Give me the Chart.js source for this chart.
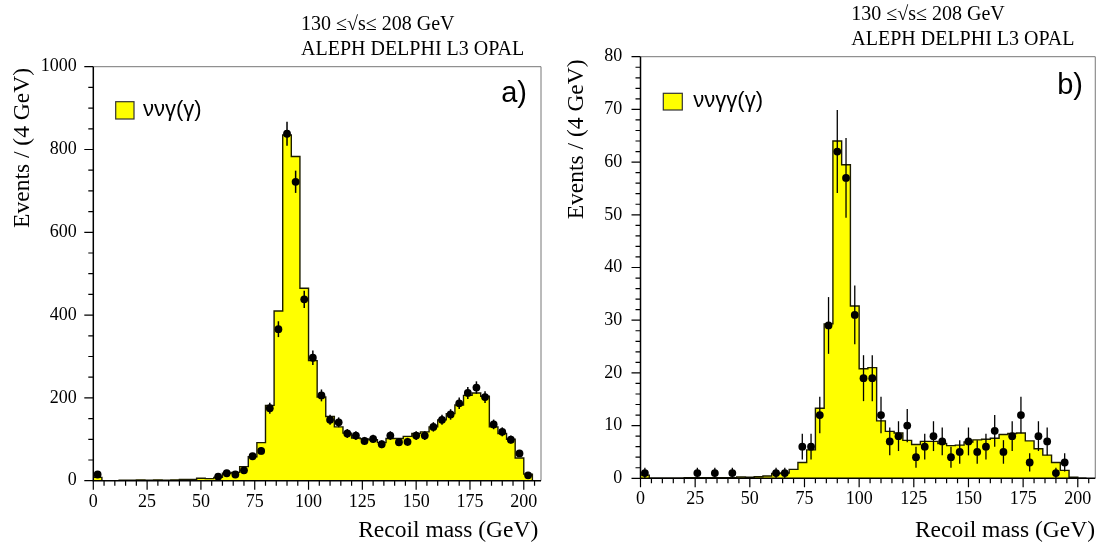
<!DOCTYPE html>
<html>
<head>
<meta charset="utf-8">
<script src="https://cdn.jsdelivr.net/npm/chart.js@4.4.0/dist/chart.umd.min.js"></script>
<style>
  html, body { margin: 0; padding: 0; background: #fff; }
  #wrap { position: relative; width: 1102px; height: 546px; overflow: hidden; }
  canvas { position: absolute; top: 0; }
  #panelA { left: 0; }
  #panelB { left: 560px; }
</style>
</head>
<body>
<div id="wrap">
  <canvas id="panelA" width="560" height="546"></canvas>
  <canvas id="panelB" width="542" height="546"></canvas>
</div>
<script>
// recoil mass histograms, 4 GeV bins starting at 0 GeV
const binWidth = 4;

const xTicks = [0, 25, 50, 75, 100, 125, 150, 175, 200];
const yTicksA = [0, 200, 400, 600, 800, 1000];
const yTicksB = [0, 10, 20, 30, 40, 50, 60, 70, 80];

// nu nu gamma (gamma): expectation (yellow) and observed events per bin
const mcA = [8, 0, 0, 1, 1, 2, 1, 2, 1, 2,
             3, 3, 6, 5, 8, 18, 20, 34, 58, 92,
             182, 410, 835, 783, 465, 290, 202, 155, 130, 115,
             103, 101, 99, 92, 102, 102, 107, 114, 118, 130,
             147, 162, 183, 206, 212, 204, 130, 114, 100, 55, 16];
const obsA = [15, 0, 0, 0, 0, 0, 0, 0, 0, 0,
              0, 0, 0, 0, 10, 18, 15, 25, 59, 72,
              175, 366, 838, 722, 438, 297, 206, 147, 141, 114,
              109, 96, 101, 88, 109, 93, 94, 109, 109, 130,
              147, 160, 187, 212, 225, 202, 136, 118, 99, 66, 13];

// nu nu gamma gamma (gamma)
const mcB = [0.6, 0, 0, 0, 0, 0.1, 0.1, 0.1, 0.1, 0.1,
             0.1, 0.25, 0.2, 0.3, 0.45, 0.9, 1.0, 1.7, 3.0, 5.4,
             13.3, 29.3, 64, 59.5, 32.7, 20.8, 21.0, 10.9, 8.9, 8.6,
             7.2, 6.4, 7.0, 7.0, 6.6, 6.2, 6.3, 6.9, 7.3, 7.4,
             7.6, 8.3, 8.5, 8.6, 7.1, 5.6, 4.4, 3.0, 1.5, 0.2, 0];
const obsB = [1, 0, 0, 0, 0, 0, 1, 0, 1, 0,
              1, 0, 0, 0, 0, 1, 1, 0, 6, 6,
              12, 29, 62, 57, 31, 19, 19, 12, 7, 8,
              10, 4, 6, 8, 7, 4, 5, 7, 5, 6,
              9, 5, 8, 12, 3, 8, 7, 1, 3, 0, 0];

// step outline: one point per lower bin edge, closed at the last upper edge
function histPoints(counts) {
  const pts = counts.map((c, i) => ({ x: i * binWidth, y: c }));
  pts.push({ x: counts.length * binWidth, y: 0 });
  return pts;
}

// observed counts at bin centres, empty bins not drawn
function dataPoints(counts) {
  return counts
    .map((c, i) => ({ x: i * binWidth + binWidth / 2, y: c }))
    .filter(p => p.y > 0);
}

// axis frame, minor/major ticks and Poisson error bars
const framePlugin = {
  id: 'frame',
  afterDatasetsDraw(chart, args, o) {
    const { ctx, chartArea: a } = chart;
    const x = chart.scales.x, y = chart.scales.y;
    ctx.save();

    const ds = chart.data.datasets[1].data;
    const meta = chart.getDatasetMeta(1);
    ctx.strokeStyle = '#000';
    ctx.lineWidth = o.errWidth;
    meta.data.forEach((pt, i) => {
      const v = ds[i].y, e = Math.sqrt(v);
      ctx.beginPath();
      ctx.moveTo(pt.x, y.getPixelForValue(v - e));
      ctx.lineTo(pt.x, y.getPixelForValue(v + e));
      ctx.stroke();
    });

    // top and right edges
    ctx.strokeStyle = '#777';
    ctx.lineWidth = 1;
    ctx.beginPath();
    ctx.moveTo(a.left, a.top);
    ctx.lineTo(a.right, a.top);
    ctx.lineTo(a.right, a.bottom);
    ctx.stroke();

    ctx.strokeStyle = '#000';
    ctx.lineWidth = 1.5;
    ctx.beginPath();
    ctx.moveTo(a.left, a.top);
    ctx.lineTo(a.left, a.bottom);
    ctx.lineTo(a.right, a.bottom);
    ctx.stroke();

    ctx.lineWidth = 1.2;
    ctx.beginPath();
    for (let v = 0; v <= x.max + 1e-9; v += o.xMinor) {
      const px = x.getPixelForValue(v);
      const len = (v % o.xMajor === 0) ? 9 : 5;
      ctx.moveTo(px, a.bottom);
      ctx.lineTo(px, a.bottom + len);
    }
    for (let v = 0; v <= y.max + 1e-9; v += o.yMinor) {
      const py = y.getPixelForValue(v);
      const len = (Math.abs(v % o.yMajor) < 1e-9) ? 9 : 5;
      ctx.moveTo(a.left, py);
      ctx.lineTo(a.left - len, py);
    }
    ctx.stroke();
    ctx.restore();
  }
};

// header, axis titles, panel tag and legend
const textPlugin = {
  id: 'texts',
  afterDraw(chart, args, o) {
    const ctx = chart.ctx;
    ctx.save();
    ctx.fillStyle = '#000';
    ctx.textBaseline = 'alphabetic';

    ctx.font = '20px "Liberation Serif"';
    ctx.textAlign = 'left';
    ctx.fillText('130 \u2264\u221As\u2264 208 GeV', o.headX, o.head1Y);
    ctx.fillText('ALEPH DELPHI L3 OPAL', o.headX, o.head2Y);

    ctx.font = '23.5px "Liberation Serif"';
    ctx.textAlign = 'right';
    ctx.fillText('Recoil mass (GeV)', o.xTitleRight, o.xTitleY);

    ctx.save();
    ctx.translate(o.yTitleX, o.yTitleEnd);
    ctx.rotate(-Math.PI / 2);
    ctx.fillText('Events / (4 GeV)', 0, 0);
    ctx.restore();

    ctx.font = '29px "Liberation Sans"';
    ctx.textAlign = 'right';
    ctx.fillText(o.tag, o.tagRight, o.tagY);

    const b = o.legendBox;
    ctx.fillStyle = '#ffff00';
    ctx.fillRect(b[0], b[1], b[2], b[3]);
    ctx.strokeStyle = '#333';
    ctx.lineWidth = 1.2;
    ctx.strokeRect(b[0], b[1], b[2], b[3]);
    ctx.fillStyle = '#000';
    ctx.font = '22px "Liberation Sans"';
    ctx.textAlign = 'left';
    ctx.fillText(o.legendText, o.legendX, o.legendY);
    ctx.restore();
  }
};

function makePanel(id, mc, obs, yTicks, yMax, p) {
  return new Chart(document.getElementById(id), {
    type: 'line',
    data: {
      datasets: [
        {
          type: 'line',
          data: histPoints(mc),
          stepped: true,
          fill: 'origin',
          backgroundColor: '#ffff00',
          borderColor: '#1c1c00',
          borderWidth: 1.4,
          pointRadius: 0,
          tension: 0,
          order: 2
        },
        {
          type: 'scatter',
          data: dataPoints(obs),
          pointRadius: 3.9,
          pointHoverRadius: 3.9,
          backgroundColor: '#000',
          borderWidth: 0,
          order: 1
        }
      ]
    },
    options: {
      responsive: false,
      animation: false,
      devicePixelRatio: 1,
      events: [],
      layout: { padding: p.pad },
      scales: {
        x: {
          type: 'linear',
          min: 0,
          max: 208,
          afterFit: s => { s.height = 40; },
          afterBuildTicks: s => { s.ticks = xTicks.map(v => ({ value: v })); },
          grid: { display: false, drawTicks: false },
          border: { display: false },
          ticks: {
            autoSkip: false, maxRotation: 0, padding: 10.5, color: '#000',
            font: { family: 'Liberation Serif', size: 18 },
            callback: v => String(v)
          }
        },
        y: {
          type: 'linear',
          min: 0,
          max: yMax,
          afterFit: s => { s.width = p.yWidth; },
          afterBuildTicks: s => { s.ticks = yTicks.map(v => ({ value: v })); },
          grid: { display: false, drawTicks: false },
          border: { display: false },
          ticks: {
            autoSkip: false, padding: p.yPad, color: '#000',
            font: { family: 'Liberation Serif', size: 18 },
            callback: v => String(v)
          }
        }
      },
      plugins: {
        legend: { display: false },
        tooltip: { enabled: false },
        frame: p.frame,
        texts: p.texts
      }
    },
    plugins: [framePlugin, textPlugin]
  });
}

makePanel('panelA', mcA, obsA, yTicksA, 1000, {
  pad: { left: 0, right: 19, top: 66.7, bottom: 25.3 },
  yWidth: 93.3,
  yPad: 16.6,
  frame: { errWidth: 1.5, xMinor: 5, xMajor: 25, yMinor: 50, yMajor: 200 },
  texts: {
    headX: 301, head1Y: 30.3, head2Y: 55.4,
    xTitleRight: 538.3, xTitleY: 537,
    yTitleX: 29, yTitleEnd: 68,
    tag: 'a)', tagRight: 527, tagY: 102,
    legendBox: [115.7, 101.7, 18.3, 17.3],
    legendText: '\u03BD\u03BD\u03B3(\u03B3)', legendX: 143, legendY: 115.5
  }
});

makePanel('panelB', mcB, obsB, yTicksB, 80, {
  pad: { left: 0, right: 5.5, top: 56.7, bottom: 27.7 },
  yWidth: 80.5,
  yPad: 18.2,
  frame: { errWidth: 1.3, xMinor: 5, xMajor: 25, yMinor: 2, yMajor: 10 },
  texts: {
    headX: 291.3, head1Y: 19.9, head2Y: 45,
    xTitleRight: 535, xTitleY: 537,
    yTitleX: 22.5, yTitleEnd: 59.4,
    tag: 'b)', tagRight: 523, tagY: 93.5,
    legendBox: [103.3, 93.3, 19, 16.7],
    legendText: '\u03BD\u03BD\u03B3\u03B3(\u03B3)', legendX: 133.3, legendY: 107
  }
});
</script>
</body>
</html>
